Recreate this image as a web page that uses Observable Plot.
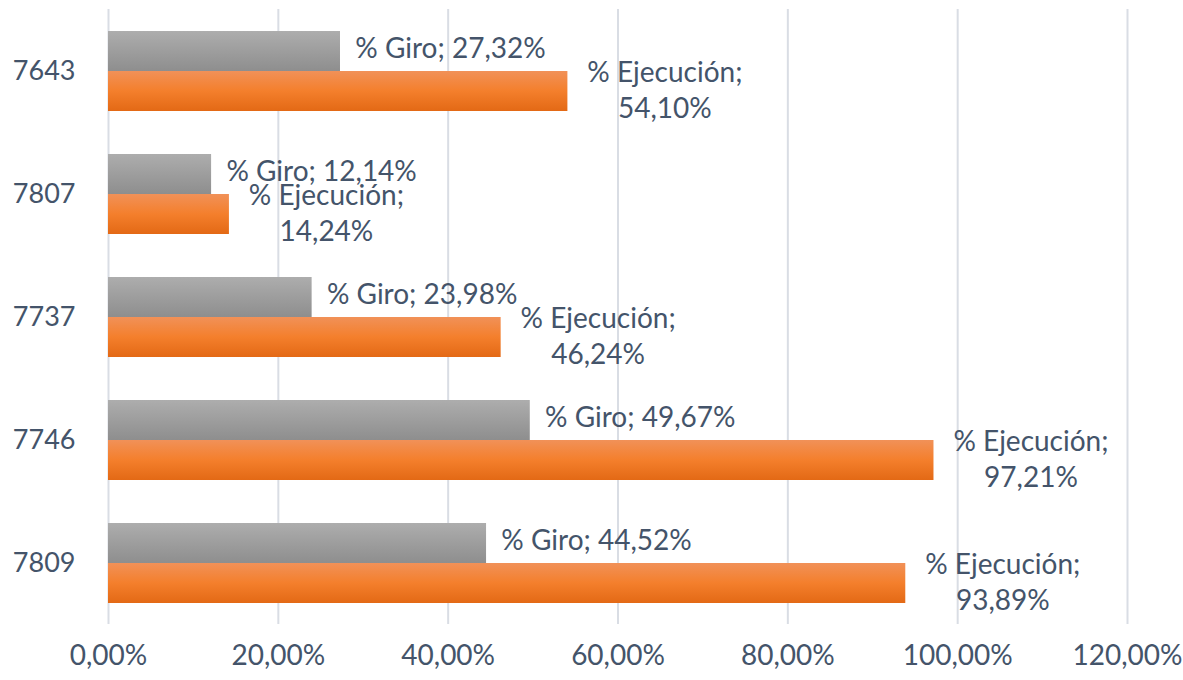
<!DOCTYPE html>
<html>
<head>
<meta charset="utf-8">
<script src="https://cdn.jsdelivr.net/npm/d3@7"></script>
<script src="https://cdn.jsdelivr.net/npm/@observablehq/plot@0.6"></script>
<style>
  html, body { margin: 0; padding: 0; background: #fff; }
</style>
</head>
<body>
<div id="chart"></div>
<script>
const categories = ["7643", "7807", "7737", "7746", "7809"];
const series = ["% Giro", "% Ejecución"];
const giro = [27.32, 12.14, 23.98, 49.67, 44.52];
const ejecucion = [54.10, 14.24, 46.24, 97.21, 93.89];
const xTicks = [0, 20, 40, 60, 80, 100, 120];

const fmt = v => v.toFixed(2).replace(".", ",") + "%";

const rows = [];
categories.forEach((c, i) => {
  rows.push({cat: c, series: series[0], value: giro[i]});
  rows.push({cat: c, series: series[1], value: ejecucion[i]});
});
const giroRows = rows.filter(d => d.series === series[0]);
const ejecRows = rows.filter(d => d.series === series[1]);

const textColor = "#44546a";

const plot = Plot.plot({
  width: 1183,
  height: 680,
  marginLeft: 108,
  marginRight: 56,
  marginTop: 8,
  marginBottom: 55,
  style: {fontFamily: "Lato, 'Open Sans', sans-serif", fontSize: "28px", color: textColor, background: "#fff"},
  x: {domain: [0, 120]},
  fy: {domain: categories, padding: 0},
  y: {domain: series, paddingInner: 0, paddingOuter: 0.53},
  marks: [
    Plot.gridX({ticks: xTicks, stroke: "#d9dde4", strokeOpacity: 1, strokeWidth: 2}),
    Plot.barX(rows, {
      fy: "cat", y: "series", x: "value",
      fill: d => d.series === series[0] ? "url(#gradGray)" : "url(#gradOrange)"
    }),
    Plot.text(giroRows, {
      fy: "cat", y: "series", x: "value",
      text: d => d.series + "; " + fmt(d.value),
      dx: 110, dy: -2, textAnchor: "middle", fill: textColor, fontSize: 28
    }),
    Plot.text(ejecRows, {
      fy: "cat", y: "series", x: "value",
      text: d => d.series + ";\n" + fmt(d.value),
      dx: 97, dy: -3, textAnchor: "middle", lineHeight: 1.3, fill: textColor, fontSize: 28
    }),
    Plot.axisX({ticks: xTicks, tickFormat: d => fmt(d), tickSize: 0, tickPadding: 21, label: null, fontSize: 28}),
    Plot.axisY({ticks: [], label: null}),
    Plot.axisFy({anchor: "left", tickSize: 0, tickPadding: 33, label: null, fontSize: 27})
  ]
});

const svg = d3.select(plot);
const defs = svg.insert("defs", ":first-child");
const g1 = defs.append("linearGradient").attr("id", "gradGray").attr("x1", 0).attr("y1", 0).attr("x2", 0).attr("y2", 1);
g1.append("stop").attr("offset", "0%").attr("stop-color", "#adadad");
g1.append("stop").attr("offset", "100%").attr("stop-color", "#8e8e8e");
const g2 = defs.append("linearGradient").attr("id", "gradOrange").attr("x1", 0).attr("y1", 0).attr("x2", 0).attr("y2", 1);
g2.append("stop").attr("offset", "0%").attr("stop-color", "#f19158");
g2.append("stop").attr("offset", "50%").attr("stop-color", "#f47f2c");
g2.append("stop").attr("offset", "100%").attr("stop-color", "#e36915");

document.getElementById("chart").appendChild(plot);
</script>
</body>
</html>
